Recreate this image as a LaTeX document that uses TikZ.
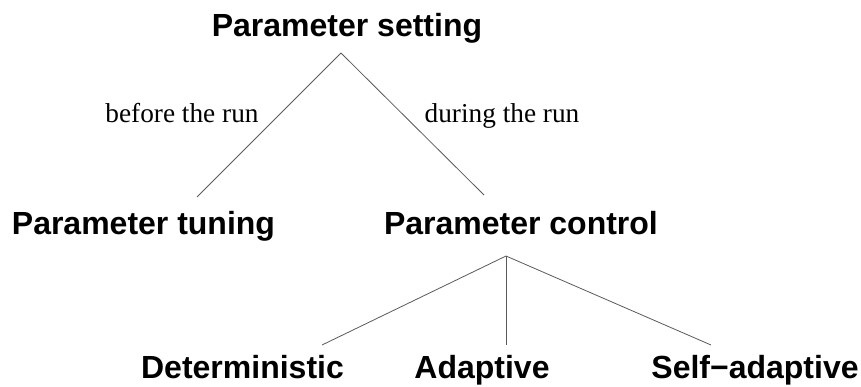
\documentclass[tikz,border=0pt]{standalone}
\usepackage{fontspec}
\setmainfont{Liberation Serif}
\setsansfont{Liberation Sans}
\begin{document}
\begin{tikzpicture}[x=1pt,y=-1pt,
  head/.style={font=\sffamily\bfseries\fontsize{32}{36}\selectfont, inner sep=0pt, anchor=base},
  edgelabel/.style={font=\rmfamily\fontsize{27.3}{30}\selectfont, inner sep=0pt, anchor=base},
  conn/.style={draw=black!65, line width=0.8pt}]
\useasboundingbox (0,0) rectangle (861,387);
\node[head] (set) at (347,37) {Parameter setting};
\node[head] (tun) at (143.5,234) {Parameter tuning};
\node[head] (ctl) at (521,234) {Parameter control};
\node[head] (det) at (242.5,378) {Deterministic};
\node[head] (ada) at (482,378) {Adaptive};
\node[head] (sel) at (755,378) {Self−adaptive};
\coordinate (setp) at (341,53);
\coordinate (tunp) at (197,197);
\coordinate (ctlt) at (484,195);
\coordinate (ctlp) at (506,256);
\coordinate (detp) at (322,345);
\coordinate (adap) at (506,345);
\coordinate (selp) at (711,345);
\draw[conn] (setp) -- (tunp);
\draw[conn] (setp) -- (ctlt);
\draw[conn] (ctlp) -- (detp);
\draw[conn] (ctlp) -- (adap);
\draw[conn] (ctlp) -- (selp);
\node[edgelabel] (lb) at (182,123) {before the run};
\node[edgelabel] (lc) at (502,123) {during the run};
\end{tikzpicture}
\end{document}
